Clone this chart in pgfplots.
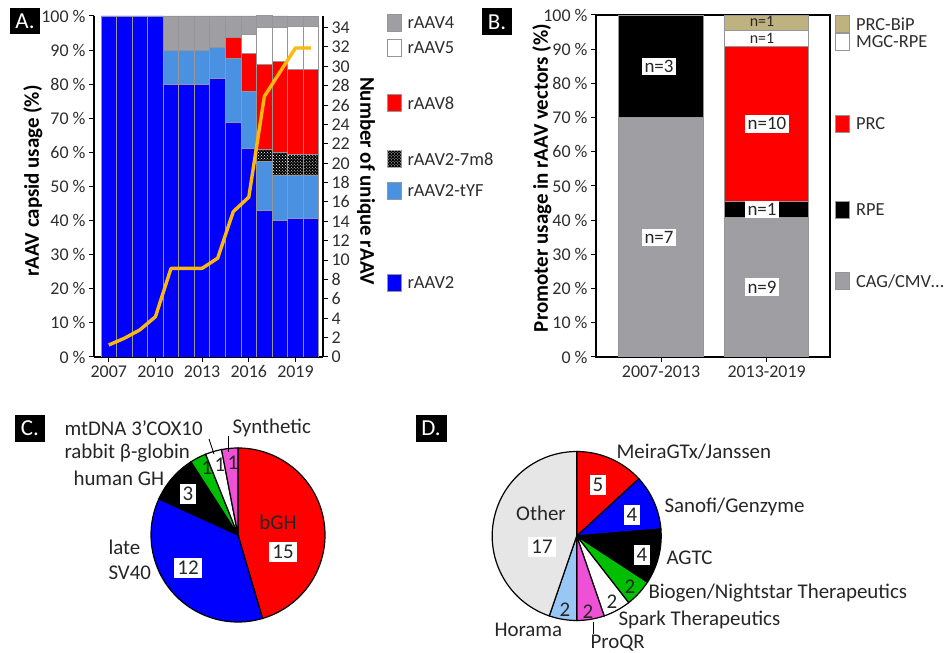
\documentclass[border=0pt]{standalone}
\usepackage{pgfplots}
\pgfplotsset{compat=1.18}
\usepackage{fontspec}
\setmainfont{Carlito}
\usetikzlibrary{patterns,calc}
\definecolor{cBlue}{RGB}{0,0,255}
\definecolor{cTYF}{RGB}{75,145,225}
\definecolor{cGray}{RGB}{158,158,163}
\definecolor{cRed}{RGB}{255,0,0}
\definecolor{cOrange}{RGB}{252,185,10}
\definecolor{cTan}{RGB}{189,178,128}
\definecolor{cGreen}{RGB}{0,190,0}
\definecolor{cMag}{RGB}{238,80,214}
\definecolor{cLBlue}{RGB}{153,199,245}
\definecolor{cOther}{RGB}{230,230,230}
\definecolor{cTick}{RGB}{45,45,45}
\definecolor{cSep}{RGB}{150,150,150}
\newcommand\fs[1]{\fontsize{#1}{#1}\selectfont}
\pgfplotsset{
  common/.style={
    /pgf/number format/assume math mode=true,
    scale only axis,
    tick label style={font=\fs{18}, text=cTick},
    tick align=outside,
    major tick length=5bp,
    every tick/.style={black, line width=1bp},
    axis line style={line width=1.3bp},
  },
}
% pie slice: start count, count, total, colour, radius
\newcommand\slice[5]{%
  \filldraw[fill=#4, draw=black, line width=1.2bp] (axis cs:0,0) --
   (axis cs:{cos(90-360*#1/#3)},{sin(90-360*#1/#3)})
   arc[start angle={90-360*#1/#3}, end angle={90-360*(#1+#2)/#3}, radius=#5] -- cycle;}
\newcommand\legbox[5]{% x, y, colour, label, extra
  \node[draw=cSep, fill=#3, minimum width=14bp, minimum height=17bp, inner sep=0pt, #5] at (#1,#2) {};
  \node[anchor=west, font=\fs{18.5}, text=cTick] at ($(#1,#2)+(10,0)$) {#4};}
\begin{document}
\begin{tikzpicture}
\path[use as bounding box] (0bp,0bp) rectangle (947bp,653bp);

% ================= Panel A =================
\begin{axis}[common,
  at={(94bp,296bp)}, anchor=south west, width=229bp, height=341bp,
  xmin=-0.95, xmax=13.77, ymin=0, ymax=100,
  ybar stacked, bar width=1,
  axis x line*=bottom, axis y line*=left,
  xtick={0,3,6,9,12}, xticklabels={2007,2010,2013,2016,2019},
  ytick={0,10,...,100},
  yticklabel={\pgfmathprintnumber{\tick}~\%},
  every axis plot/.append style={draw=cSep, line width=0.9bp},
]
\addplot[fill=cBlue] coordinates {(0,100)(1,100)(2,100)(3,100)(4,80)(5,80)(6,80)(7,81.8)(8,68.75)(9,61.1)(10,42.9)(11,40)(12,40.6)(13,40.6)};
\addplot[fill=cTYF] coordinates {(0,0)(1,0)(2,0)(3,0)(4,10)(5,10)(6,10)(7,9.1)(8,18.75)(9,16.7)(10,14.3)(11,13.3)(12,12.5)(13,12.5)};
\addplot[fill=black, postaction={pattern=crosshatch dots, pattern color=white}] coordinates {(0,0)(1,0)(2,0)(3,0)(4,0)(5,0)(6,0)(7,0)(8,0)(9,0)(10,3.6)(11,6.7)(12,6.25)(13,6.25)};
\addplot[fill=cRed] coordinates {(0,0)(1,0)(2,0)(3,0)(4,0)(5,0)(6,0)(7,0)(8,6.25)(9,11.1)(10,25)(11,26.7)(12,25)(13,25)};
\addplot[fill=white] coordinates {(0,0)(1,0)(2,0)(3,0)(4,0)(5,0)(6,0)(7,0)(8,0)(9,5.55)(10,10.7)(11,10)(12,12.5)(13,12.5)};
\addplot[fill=cGray] coordinates {(0,0)(1,0)(2,0)(3,0)(4,10)(5,10)(6,10)(7,9.1)(8,6.25)(9,5.55)(10,3.6)(11,3.3)(12,3.1)(13,3.1)};
\end{axis}
\begin{axis}[common,
  at={(94bp,296bp)}, anchor=south west, width=229bp, height=341bp,
  xmin=-0.95, xmax=13.77, ymin=0, ymax=35.2,
  axis x line=none, axis y line*=right,
  ytick={0,2,...,34},
]
\addplot[cOrange, line width=3.4bp, line join=round] coordinates {(0,1.24)(1,1.93)(2,2.8)(3,4.16)(4,9.15)(5,9.15)(6,9.15)(7,10.2)(8,15.0)(9,16.5)(10,26.9)(11,29.4)(12,31.9)(13,31.9)};
\end{axis}

% ================= Panel B =================
\begin{axis}[common,
  at={(596bp,296bp)}, anchor=south west, width=234bp, height=342bp,
  xmin=-0.616, xmax=1.60, ymin=0, ymax=100,
  ybar stacked, bar width=0.8,
  xtick pos=bottom, ytick pos=left,
  xtick={0,1}, xticklabels={2007-2013,2013-2019},
  ytick={0,10,...,100},
  yticklabel={\pgfmathprintnumber{\tick}~\%},
  every axis plot/.append style={draw=cSep, line width=0.8bp},
]
\addplot[fill=cGray] coordinates {(0,70)(1,40.91)};
\addplot[fill=black] coordinates {(0,30)(1,4.55)};
\addplot[fill=cRed] coordinates {(0,0)(1,45.45)};
\addplot[fill=white] coordinates {(0,0)(1,4.55)};
\addplot[fill=cTan] coordinates {(0,0)(1,4.55)};
\end{axis}

% ================= Panel C =================
\begin{axis}[at={(238bp,118bp)}, anchor=center, x=87bp, y=87bp,
  xmin=-1, xmax=1, ymin=-1, ymax=1, hide axis, clip=false]
\slice{0}{15}{33}{cRed}{87bp}
\slice{15}{12}{33}{cBlue}{87bp}
\slice{27}{3}{33}{black}{87bp}
\slice{30}{1}{33}{cGreen}{87bp}
\slice{31}{1}{33}{white}{87bp}
\slice{32}{1}{33}{cMag}{87bp}
\end{axis}

% ================= Panel D =================
\begin{axis}[at={(576.7bp,117bp)}, anchor=center, x=84.5bp, y=84.5bp,
  xmin=-1, xmax=1, ymin=-1, ymax=1, hide axis, clip=false]
\slice{0}{5}{38}{cRed}{84.5bp}
\slice{5}{4}{38}{cBlue}{84.5bp}
\slice{9}{4}{38}{black}{84.5bp}
\slice{13}{2}{38}{cGreen}{84.5bp}
\slice{15}{2}{38}{white}{84.5bp}
\slice{17}{2}{38}{cMag}{84.5bp}
\slice{19}{2}{38}{cLBlue}{84.5bp}
\slice{21}{17}{38}{cOther}{84.5bp}
\end{axis}

\begin{scope}[x=1bp,y=1bp]
% ---- A texts
\node[rotate=90, font=\fs{21}\bfseries] at (33,472) {rAAV capsid usage (\%)};
\node[rotate=-90, font=\fs{21}\bfseries] at (366,472) {Number of unique rAAV};
\legbox{394}{630}{cGray}{rAAV4}{}
\legbox{394}{605}{white}{rAAV5}{}
\legbox{394}{550}{cRed}{rAAV8}{}
\legbox{394}{494}{black}{rAAV2-7m8}{postaction={pattern=crosshatch dots, pattern color=white}}
\legbox{394}{462}{cTYF}{rAAV2-tYF}{}
\legbox{394}{370}{cBlue}{rAAV2}{}
\node[fill=black, text=white, font=\fs{23}, minimum width=30bp, minimum height=26bp, inner sep=0pt] at (25,632) {A.};
% ---- B texts
\node[rotate=90, font=\fs{21}\bfseries] at (542,475) {Promoter usage in rAAV vectors (\%)};
\begin{scope}[every node/.style={font=\fs{19}, inner sep=2.5bp, text=black!85}]
\node[fill=white] at (659,586.7) {n=3};
\node[fill=white] at (659,415.7) {n=7};
\node[fill=white] at (767,529.2) {n=10};
\node[fill=white] at (762,443.7) {n=1};
\node[fill=white] at (762,366) {n=9};
\node[inner sep=0pt, font=\fs{16}] at (762,614.8) {n=1};
\node[inner sep=0pt, font=\fs{16}] at (762,631.6) {n=1};
\end{scope}
\legbox{842.5}{629}{cTan}{PRC-BiP}{}
\legbox{842.5}{611}{white}{MGC-RPE}{}
\legbox{842.5}{529}{cRed}{PRC}{}
\legbox{842.5}{443}{black}{RPE}{}
\legbox{842.5}{372}{cGray}{CAG/CMV\ldots}{}
\node[fill=black, text=white, font=\fs{23}, minimum width=30bp, minimum height=27bp, inner sep=0pt] at (497,631) {B.};
% ---- C texts
\node[fill=black, text=white, font=\fs{23}, minimum width=30bp, minimum height=27bp, inner sep=0pt] at (30,224.5) {C.};
\begin{scope}[every node/.style={font=\fs{21}, text=black!85}]
\node[anchor=west] at (229,225) {Synthetic};
\node[anchor=west] at (61,225) {mtDNA 3'COX10};
\node[anchor=west] at (61,200) {rabbit β-globin};
\node[anchor=west] at (70,175) {human GH};
\node[anchor=west] at (105,106) {late};
\node[anchor=west] at (105,80) {SV40};
\node at (278,131) {bGH};
\node[fill=white, inner sep=3bp] at (283,101) {15};
\node[fill=white, inner sep=3bp] at (188,85) {12};
\node[fill=white, inner sep=3bp] at (188,159) {3};
\node at (207,185) {1};
\node at (220,188) {1};
\node at (233,190) {1};
\end{scope}
\draw[line width=0.8bp] (209,214) -- (214,199);
\draw[line width=0.8bp] (228,217) -- (228,201);
% ---- D texts
\node[fill=black, text=white, font=\fs{23}, minimum width=31bp, minimum height=27bp, inner sep=0pt] at (431,224.5) {D.};
\begin{scope}[every node/.style={font=\fs{21}, text=black!85}]
\node[anchor=west] at (613,201) {MeiraGTx/Janssen};
\node[anchor=west] at (661,146) {Sanofi/Genzyme};
\node[anchor=west] at (663,95) {AGTC};
\node[anchor=west] at (645,60) {Biogen/Nightstar Therapeutics};
\node[anchor=west] at (615,33) {Spark Therapeutics};
\node[anchor=west] at (587,10) {ProQR};
\node[anchor=west] at (491,23) {Horama};
\node at (541,140) {Other};
\node[fill=white, inner sep=3bp] at (542,106) {17};
\node[fill=white, inner sep=3bp] at (598,168) {5};
\node[fill=white, inner sep=3bp] at (632,138) {4};
\node[fill=white, inner sep=3bp] at (642,98) {4};
\node at (630,66) {2};
\node at (612,51) {2};
\node at (588,41) {2};
\node at (565,43) {2};
\end{scope}
\draw[line width=0.8bp] (593,31) -- (593,19);
\end{scope}
\end{tikzpicture}
\end{document}
